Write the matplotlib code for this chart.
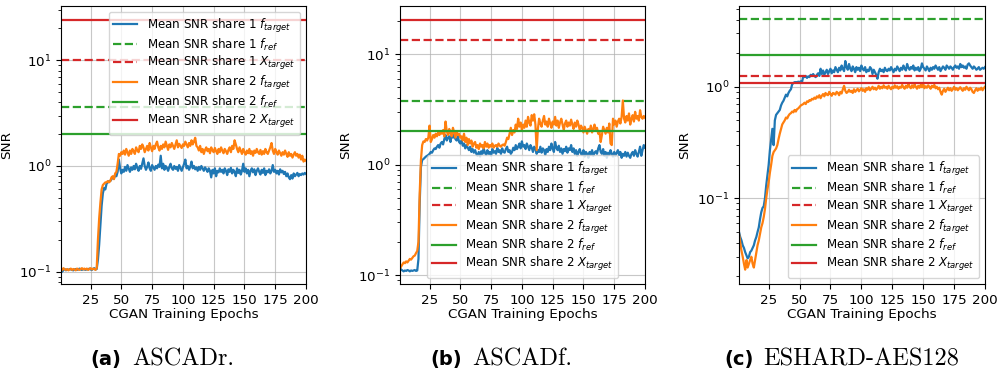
import numpy as np
import matplotlib
matplotlib.use("Agg")
import matplotlib.pyplot as plt

epochs = np.arange(1, 201)

# ---------------- Panel (a) ASCADr ----------------
a_s1_target = [
 0.105,0.10,0.104,0.106,0.103,0.105,0.104,0.106,0.105,0.104,0.103,0.105,0.106,0.104,0.105,0.107,0.105,0.104,0.106,0.105,
 0.104,0.106,0.105,0.107,0.105,0.104,0.106,0.108,0.105,0.106,0.13,0.18,0.28,0.42,0.55,0.62,0.6,0.68,0.7,0.72,
 0.72,0.75,0.78,0.76,0.82,0.8,0.88,1.15,0.95,0.85,0.92,0.88,0.98,0.9,1.02,0.95,0.88,0.97,0.92,1.0,
 0.93,1.05,0.96,0.9,1.0,0.94,1.05,1.18,1.0,0.92,0.98,1.08,0.95,0.9,1.02,0.97,0.92,1.0,0.95,1.03,
 0.98,1.25,0.95,1.05,0.92,1.0,0.96,0.9,0.98,1.05,0.95,0.92,1.0,0.94,0.98,0.9,1.02,0.96,0.9,0.97,
 1.05,1.15,0.95,1.0,0.92,0.98,1.1,0.95,1.0,0.93,0.97,0.9,0.98,0.92,1.0,0.95,0.9,0.97,0.93,0.88,
 0.95,0.9,0.78,0.92,0.85,0.95,0.8,0.9,0.87,0.95,0.88,0.92,0.85,0.95,0.9,0.82,0.93,0.88,0.96,0.85,
 0.92,0.88,0.8,0.95,0.86,0.92,0.83,0.9,1.05,0.88,0.95,0.85,0.92,0.8,0.9,0.95,0.87,0.93,0.82,0.9,
 0.95,0.88,0.83,0.92,0.86,0.95,0.82,0.9,0.87,0.93,0.85,0.9,1.02,0.88,0.92,0.85,0.9,0.83,0.93,0.87,
 0.9,0.84,0.88,0.8,0.85,0.78,0.75,0.82,0.76,0.85,0.8,0.83,0.86,0.8,0.84,0.82,0.85,0.83,0.86,0.84]
a_s2_target = [
 0.102,0.104,0.108,0.105,0.104,0.106,0.103,0.105,0.107,0.104,0.106,0.105,0.103,0.107,0.105,0.104,0.106,0.108,0.105,0.107,
 0.105,0.107,0.104,0.106,0.108,0.105,0.107,0.106,0.104,0.108,0.2,0.32,0.45,0.6,0.66,0.68,0.7,0.7,0.72,0.7,
 0.72,0.78,0.8,0.75,0.85,0.88,1.05,1.3,1.25,1.35,1.3,1.4,1.28,1.45,1.35,1.25,1.4,1.3,1.45,1.38,
 1.3,1.5,1.4,1.35,1.55,1.45,1.6,1.5,1.35,1.45,1.55,1.4,1.65,1.5,1.38,1.55,1.45,1.6,1.7,1.5,
 1.4,1.55,1.45,1.6,1.5,1.7,1.55,1.42,1.6,1.5,1.65,1.55,1.45,1.6,1.75,1.5,1.62,1.55,1.48,1.6,
 1.55,1.7,1.6,1.5,1.65,1.55,1.75,1.6,1.7,1.85,1.55,1.5,1.4,1.55,1.35,1.45,1.3,1.42,1.5,1.38,
 1.45,1.32,1.5,1.4,1.35,1.48,1.38,1.3,1.45,1.35,1.5,1.4,1.32,1.45,1.38,1.3,1.42,1.5,1.35,1.55,
 1.45,1.75,1.6,1.45,1.35,1.5,1.4,1.3,1.45,1.35,1.28,1.4,1.32,1.45,1.3,1.38,1.25,1.4,1.33,1.45,
 1.35,1.3,1.42,1.28,1.38,1.3,1.45,1.35,1.3,1.4,1.5,1.65,1.4,1.3,1.45,1.35,1.28,1.4,1.32,1.25,
 1.35,1.28,1.4,1.3,1.22,1.35,1.25,1.3,1.2,1.28,1.35,1.25,1.3,1.2,1.28,1.15,1.25,1.1,1.15,1.12]
a_refs = {"s1_fref": 3.63, "s1_xtarget": 10.0, "s2_fref": 2.0, "s2_xtarget": 24.2}

# ---------------- Panel (b) ASCADf ----------------
b_s1_target = [
 0.115,0.112,0.11,0.108,0.11,0.109,0.111,0.11,0.108,0.11,0.109,0.11,0.111,0.109,0.11,0.14,0.45,0.95,1.1,1.12,
 1.15,1.18,1.2,1.22,1.25,1.3,1.28,1.35,1.4,1.38,1.45,1.5,1.42,1.55,1.6,1.52,1.7,1.85,1.65,1.75,
 1.8,1.6,1.95,1.75,1.85,1.7,1.65,1.8,1.6,1.55,1.65,1.48,1.55,1.4,1.5,1.42,1.35,1.45,1.3,1.38,
 1.28,1.35,1.25,1.2,1.3,1.18,1.32,1.25,1.4,1.28,1.22,1.35,1.25,1.3,1.2,1.38,1.28,1.32,1.25,1.42,
 1.3,1.35,1.25,1.4,1.3,1.28,1.38,1.45,1.3,1.35,1.25,1.3,1.42,1.35,1.5,1.38,1.45,1.55,1.4,1.62,
 1.45,1.5,1.38,1.55,1.45,1.35,1.5,1.42,1.3,1.45,1.38,1.25,1.35,1.3,1.45,1.28,1.4,1.35,1.22,1.38,
 1.3,1.45,1.35,1.55,1.4,1.3,1.6,1.42,1.35,1.48,1.3,1.4,1.25,1.38,1.32,1.45,1.28,1.4,1.35,1.5,
 1.3,1.4,1.25,1.35,1.2,1.3,1.38,1.25,1.22,1.35,1.18,1.3,1.25,1.15,1.3,1.22,1.35,1.2,1.28,1.32,
 1.25,1.4,1.5,1.3,1.25,1.38,1.2,1.3,1.15,1.28,1.22,1.35,1.25,1.18,1.3,1.2,1.28,1.35,1.22,1.3,
 1.15,1.25,1.2,1.3,1.18,1.28,1.2,1.15,1.25,1.3,1.2,1.35,1.25,1.18,1.3,1.45,1.2,1.35,1.5,1.42]
b_s2_target = [
 0.115,0.12,0.125,0.13,0.128,0.133,0.13,0.135,0.14,0.138,0.143,0.148,0.15,0.158,0.165,0.2,0.55,1.1,1.5,1.62,
 1.6,1.7,1.65,1.75,2.25,1.6,1.7,1.85,1.75,1.9,1.8,1.95,1.85,2.0,1.9,2.05,1.8,2.45,2.0,1.85,
 2.1,1.9,1.8,2.15,1.95,1.75,2.0,1.85,1.9,1.75,1.8,1.65,1.9,1.6,1.75,1.5,1.7,1.55,1.65,1.45,
 1.55,1.6,1.42,1.5,1.38,1.55,1.45,1.5,1.4,1.6,1.45,1.55,1.42,1.5,1.45,1.55,1.42,1.48,1.5,1.45,
 1.55,1.48,1.45,1.5,1.52,1.48,1.6,1.75,1.7,1.9,2.15,1.85,2.05,1.95,2.3,2.1,2.6,2.2,2.4,2.05,
 2.3,2.15,2.5,2.2,2.7,2.4,2.25,2.8,2.5,2.85,2.3,1.35,2.1,2.6,2.35,2.2,2.5,2.75,2.3,2.45,
 2.2,2.6,2.35,2.15,2.45,2.3,2.7,2.25,2.5,2.15,2.4,2.6,2.3,2.05,2.35,2.5,2.2,2.4,2.25,2.55,
 2.3,2.1,2.4,2.2,2.5,2.3,2.05,2.25,2.15,1.95,2.2,2.05,1.9,2.1,2.0,2.25,1.95,2.1,2.3,2.05,
 2.15,1.9,2.0,1.6,1.85,2.2,2.05,1.9,2.15,1.95,2.35,1.55,1.5,2.6,2.3,2.5,2.2,2.45,2.6,2.35,
 2.7,3.8,2.6,2.4,2.75,2.5,2.9,2.3,2.6,2.8,2.45,3.0,2.6,2.75,2.5,3.1,2.7,2.6,2.75,2.65]
b_refs = {"s1_fref": 3.77, "s1_xtarget": 13.5, "s2_fref": 2.03, "s2_xtarget": 20.4}

# ---------------- Panel (c) ESHARD-AES128 ----------------
c_s1_target = [
 0.05,0.045,0.042,0.038,0.036,0.033,0.031,0.029,0.03,0.033,0.034,0.036,0.038,0.042,0.045,0.05,0.055,0.065,0.075,0.082,
 0.085,0.1,0.13,0.16,0.2,0.27,0.34,0.42,0.3,0.5,0.56,0.58,0.6,0.62,0.68,0.72,0.75,0.8,0.85,0.82,
 0.88,0.92,0.95,1.05,1.08,1.1,1.1,1.1,1.11,1.1,1.12,1.1,1.25,1.22,1.25,1.2,1.24,1.22,1.28,1.25,
 1.3,1.25,1.22,1.28,1.32,1.25,1.45,1.3,1.4,1.28,1.35,1.42,1.3,1.38,1.45,1.32,1.4,1.35,1.5,1.42,
 1.35,1.48,1.4,1.55,1.45,1.38,1.7,1.5,1.42,1.6,1.45,1.38,1.52,1.45,1.35,1.5,1.42,1.48,1.38,1.55,
 1.45,1.4,1.5,1.35,1.42,1.38,1.5,1.45,1.3,1.42,1.35,1.28,1.18,1.35,1.45,1.38,1.42,1.35,1.48,1.4,
 1.38,1.45,1.4,1.5,1.42,1.35,1.45,1.4,1.52,1.45,1.38,1.48,1.42,1.55,1.45,1.4,1.6,1.48,1.42,1.5,
 1.45,1.55,1.4,1.48,1.42,1.5,1.38,1.45,1.62,1.5,1.45,1.4,1.52,1.45,1.38,1.48,1.42,1.5,1.45,1.55,
 1.48,1.42,1.5,1.38,1.45,1.52,1.48,1.42,1.55,1.5,1.45,1.52,1.48,1.42,1.5,1.55,1.48,1.52,1.45,1.6,
 1.5,1.55,1.48,1.52,1.45,1.58,1.62,1.55,1.5,1.45,1.52,1.48,1.42,1.45,1.5,1.42,1.45,1.48,1.45,1.5]
c_s2_target = [
 0.048,0.04,0.034,0.03,0.026,0.023,0.028,0.024,0.026,0.028,0.03,0.026,0.024,0.028,0.033,0.038,0.042,0.048,0.055,0.06,
 0.068,0.08,0.1,0.12,0.14,0.17,0.2,0.24,0.26,0.27,0.28,0.3,0.34,0.38,0.42,0.46,0.48,0.5,0.53,0.52,
 0.55,0.57,0.58,0.6,0.59,0.62,0.6,0.63,0.64,0.66,0.68,0.69,0.7,0.72,0.7,0.74,0.73,0.76,0.75,0.78,
 0.77,0.8,0.78,0.82,0.8,0.84,0.79,0.83,0.86,0.82,0.88,0.85,0.84,0.9,0.86,0.83,0.88,0.87,0.85,0.9,
 0.88,0.84,0.9,0.87,0.95,1.02,0.92,0.88,0.9,0.94,0.9,0.92,0.88,0.95,0.9,0.93,0.96,0.91,0.94,0.97,
 0.92,0.95,0.9,0.97,0.94,0.99,0.93,0.96,1.0,0.95,0.98,0.94,0.97,1.02,0.96,1.0,0.97,1.03,0.98,1.0,
 0.96,1.02,0.98,0.95,1.0,0.97,1.03,0.98,1.01,0.96,1.0,0.98,1.04,0.99,0.96,1.02,0.98,1.06,1.0,0.97,
 1.03,0.98,1.05,1.0,0.96,1.02,0.98,1.04,0.99,1.06,0.97,1.01,0.98,1.03,1.0,0.96,1.02,0.99,1.04,0.97,
 1.0,0.95,0.98,0.9,0.85,0.92,0.96,0.9,0.94,0.98,0.93,0.97,0.92,0.95,1.0,0.94,0.97,0.93,0.96,0.99,
 0.95,0.92,0.97,0.94,1.0,0.96,0.93,0.98,0.95,0.9,0.88,0.93,0.97,0.92,0.96,0.94,0.98,0.93,0.97,1.0]
c_refs = {"s1_fref": 4.05, "s1_xtarget": 1.25, "s2_fref": 1.93, "s2_xtarget": 1.07}

panel_letters = ["(a)", "(b)", "(c)"]
panel_names = ["ASCADr.", "ASCADf.", "ESHARD-AES128"]
x_label = "CGAN Training Epochs"
y_label = "SNR"
legend_labels = [
    r"Mean SNR share 1 $f_{target}$",
    r"Mean SNR share 1 $f_{ref}$",
    r"Mean SNR share 1 $X_{target}$",
    r"Mean SNR share 2 $f_{target}$",
    r"Mean SNR share 2 $f_{ref}$",
    r"Mean SNR share 2 $X_{target}$",
]

# ---------------- layout ----------------
W, H = 998, 371
plt.rcParams["font.family"] = ["DejaVu Sans"]
plt.rcParams["font.size"] = 9.7
fig = plt.figure(figsize=(W / 100, H / 100), dpi=100)

panels = [
    dict(s1=a_s1_target, s2=a_s2_target, refs=a_refs, left=61, right=306,
         ylim=(0.0765, 32.6), loc="upper right", cap=(121.7, 132.7)),
    dict(s1=b_s1_target, s2=b_s2_target, refs=b_refs, left=400, right=645,
         ylim=(0.083, 27.2), loc="lower center", cap=(461.5, 472.5)),
    dict(s1=c_s1_target, s2=c_s2_target, refs=c_refs, left=739, right=985,
         ylim=(0.0171, 5.29), loc="lower right", cap=(753.3, 763.3)),
]
top_px, bot_px = 6, 284

for i, p in enumerate(panels):
    ax = fig.add_axes([p["left"] / W, 1 - bot_px / H,
                       (p["right"] - p["left"]) / W, (bot_px - top_px) / H])
    ax.plot(epochs, p["s1"], color="tab:blue", lw=1.6, label=legend_labels[0])
    ax.axhline(p["refs"]["s1_fref"], color="tab:green", ls="--", lw=1.6, label=legend_labels[1])
    ax.axhline(p["refs"]["s1_xtarget"], color="tab:red", ls="--", lw=1.6, label=legend_labels[2])
    ax.plot(epochs, p["s2"], color="tab:orange", lw=1.6, label=legend_labels[3])
    ax.axhline(p["refs"]["s2_fref"], color="tab:green", ls="-", lw=1.6, label=legend_labels[4])
    ax.axhline(p["refs"]["s2_xtarget"], color="tab:red", ls="-", lw=1.6, label=legend_labels[5])
    ax.set_yscale("log")
    ax.set_xlim(1, 200)
    ax.set_ylim(*p["ylim"])
    ax.set_xticks([25, 50, 75, 100, 125, 150, 175, 200])
    ax.grid(True, which="major", color="#b0b0b0", alpha=0.7, lw=0.8)
    ax.set_xlabel(x_label, fontsize=9.7, labelpad=1)
    ax.set_ylabel(y_label, fontsize=9.7)
    ax.tick_params(labelsize=9.7)
    ax.legend(loc=p["loc"], fontsize=8.6, framealpha=0.8, labelspacing=0.15)

    base_y = 1 - 365 / H
    fig.text(p["cap"][0] / W, base_y, panel_letters[i], ha="right", va="baseline",
             fontsize=14, fontweight="bold", family="DejaVu Sans")
    fig.text(p["cap"][1] / W, base_y, panel_names[i], ha="left", va="baseline",
             fontsize=17.5, family="cmr10")

fig.savefig("out.png", dpi=100)
